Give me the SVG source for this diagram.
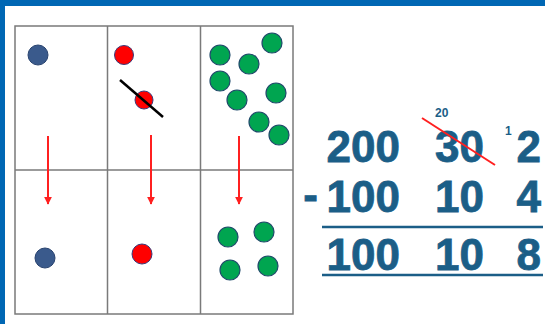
<svg xmlns="http://www.w3.org/2000/svg" width="545" height="324" viewBox="0 0 545 324">
<defs>
<style>
.grid{fill:none;stroke:#7a7a7a;stroke-width:1.5}
.blue{fill:#3a5a8c;stroke:#2a4470;stroke-width:1}
.red{fill:#ff0000;stroke:#3a3a7a;stroke-width:1}
.green{fill:#00a550;stroke:#1f4a6a;stroke-width:1.2}
.arr{stroke:#ff2020;stroke-width:2;fill:none}
.num{font-family:"Liberation Sans",Arial,sans-serif;font-weight:bold;fill:#1b5e87;stroke:#1b5e87;stroke-width:0.8;font-size:44px;text-anchor:end}
.small{font-family:"Liberation Sans",Arial,sans-serif;font-weight:bold;fill:#1b5e87;font-size:12px}
.rule{stroke:#1b5e87;stroke-width:2.5}
</style>
<marker id="ah" viewBox="0 0 10 10" refX="9" refY="5" markerWidth="4" markerHeight="4" orient="auto">
<path d="M0,0 L10,5 L0,10 z" fill="#ff2020"/>
</marker>
</defs>
<rect width="545" height="324" fill="#ffffff"/>
<rect x="0" y="0" width="545" height="6" fill="#0067b4"/>
<rect x="0" y="0" width="5" height="324" fill="#0067b4"/>
<g id="grid">
<rect class="grid" x="15" y="26" width="278" height="288"/>
<line class="grid" x1="107.5" y1="26" x2="107.5" y2="314"/>
<line class="grid" x1="200.5" y1="26" x2="200.5" y2="314"/>
<line class="grid" x1="15" y1="170" x2="293" y2="170"/>
</g>
<g id="circles-top">
<circle class="blue" cx="38" cy="55" r="10"/>
<circle class="red" cx="124" cy="55" r="9.5"/>
<circle class="red" cx="144" cy="100" r="9"/>
<line x1="120" y1="80" x2="163" y2="117" stroke="#000" stroke-width="2.5"/>
<circle class="green" cx="220" cy="55" r="10"/>
<circle class="green" cx="272" cy="43" r="10"/>
<circle class="green" cx="249" cy="64" r="10"/>
<circle class="green" cx="220" cy="81" r="10"/>
<circle class="green" cx="237" cy="100" r="10"/>
<circle class="green" cx="276" cy="93" r="10"/>
<circle class="green" cx="259" cy="122" r="10"/>
<circle class="green" cx="279" cy="135" r="10"/>
</g>
<g id="connectors">
<line class="arr" x1="48" y1="136" x2="48" y2="204" marker-end="url(#ah)"/>
<line class="arr" x1="151" y1="135" x2="151" y2="204" marker-end="url(#ah)"/>
<line class="arr" x1="239" y1="136" x2="239" y2="204" marker-end="url(#ah)"/>
</g>
<g id="circles-bottom">
<circle class="blue" cx="45" cy="258" r="10"/>
<circle class="red" cx="142" cy="254" r="10"/>
<circle class="green" cx="228" cy="237" r="10"/>
<circle class="green" cx="264" cy="232" r="10"/>
<circle class="green" cx="230" cy="270" r="10"/>
<circle class="green" cx="268" cy="266" r="10"/>
</g>
<g id="sum">
<text class="num" x="400" y="162">200</text>
<text class="num" x="484" y="162">30</text>
<text class="num" x="541" y="162">2</text>
<text class="num" x="318" y="210">-</text>
<text class="num" x="400" y="212">100</text>
<text class="num" x="484" y="212">10</text>
<text class="num" x="541" y="212">4</text>
<line class="rule" x1="322" y1="227" x2="543" y2="227"/>
<text class="num" x="400" y="270">100</text>
<text class="num" x="484" y="270">10</text>
<text class="num" x="541" y="270">8</text>
<line class="rule" x1="322" y1="275" x2="543" y2="275"/>
<text class="small" x="435" y="117">20</text>
<text class="small" x="505" y="135" font-size="10">1</text>
<line x1="422" y1="118" x2="495" y2="165" stroke="#ff2020" stroke-width="2"/>
</g>
</svg>
